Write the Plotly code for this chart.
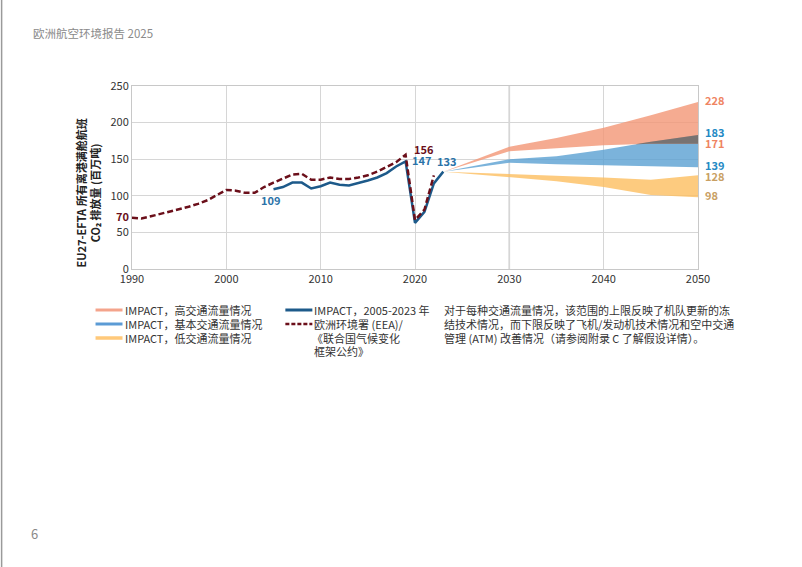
import plotly.graph_objects as go

# ---------------- data ----------------
eea_years = list(range(1990, 2023))
eea_values = [70, 69, 72, 75, 78, 81, 85, 89, 94, 101, 108, 107, 104, 104, 112,
              118, 123, 129, 130, 122, 122, 125, 123, 123, 125, 128, 133, 140,
              146, 156, 67, 81, 128]

impact_years = list(range(2005, 2024))
impact_values = [109, 112, 118, 118, 110, 113, 118, 115, 114, 117, 121, 125,
                 131, 140, 147, 63, 78, 117, 133]

proj_years = [2023, 2030, 2035, 2040, 2045, 2050]
high_upper = [133, 167, 179, 193, 210, 228]
high_lower = [133, 161, 165, 169, 171, 171]
base_upper = [133, 150, 154, 163, 174, 183]
base_lower = [133, 145, 143, 142, 141, 139]
low_upper = [133, 130, 128, 125, 122, 128]
low_lower = [133, 126, 120, 112, 101, 98]

x_ticks = [1990, 2000, 2010, 2020, 2030, 2040, 2050]
y_ticks = [0, 50, 100, 150, 200, 250]

# ---------------- styles ----------------
FONT = "Noto Sans CJK SC, Noto Sans, sans-serif"
C_HIGH = "rgba(242,150,118,0.8)"
C_BASE = "rgba(90,160,210,0.8)"
C_LOW = "rgba(253,190,95,0.8)"
C_OVER = "rgba(112,112,112,0.92)"
C_IMPACT = "#1d5a8a"
C_EEA = "#6b0f1a"
TXT = "#333333"

W, H = 802, 567
L, R, T, B = 131.5, 698, 86, 269


def px(x):
    return (x - L) / (R - L)


def py(y):
    return (B - y) / (B - T)


fig = go.Figure()


def band(lower, upper, color):
    fig.add_trace(go.Scatter(x=proj_years, y=lower, mode="lines",
                             line=dict(width=0, color=color), showlegend=False,
                             hoverinfo="skip"))
    fig.add_trace(go.Scatter(x=proj_years, y=upper, mode="lines", fill="tonexty",
                             fillcolor=color, line=dict(width=0, color=color),
                             showlegend=False, hoverinfo="skip"))


band(low_lower, low_upper, C_LOW)
band(base_lower, base_upper, C_BASE)
band(high_lower, high_upper, C_HIGH)

# overlap of high and base bands (derived from the band data)
ox, olo, ohi = [], [], []
for i in range(len(proj_years) - 1):
    x0, x1 = proj_years[i], proj_years[i + 1]
    lo0 = max(high_lower[i], base_lower[i]); lo1 = max(high_lower[i + 1], base_lower[i + 1])
    hi0 = min(high_upper[i], base_upper[i]); hi1 = min(high_upper[i + 1], base_upper[i + 1])
    d0, d1 = hi0 - lo0, hi1 - lo1
    if d0 <= 0 < d1:
        t = d0 / (d0 - d1)
        xc = x0 + t * (x1 - x0)
        yc = lo0 + t * (lo1 - lo0)
        ox.append(xc); olo.append(yc); ohi.append(yc)
    if d1 > 0:
        ox.append(x1); olo.append(lo1); ohi.append(hi1)
if ox:
    fig.add_trace(go.Scatter(x=ox + ox[::-1], y=olo + ohi[::-1], mode="lines",
                             fill="toself", fillcolor=C_OVER, line=dict(width=0),
                             showlegend=False, hoverinfo="skip"))

fig.add_trace(go.Scatter(x=impact_years, y=impact_values, mode="lines",
                         line=dict(color=C_IMPACT, width=2.5), showlegend=False,
                         hoverinfo="skip"))
fig.add_trace(go.Scatter(x=eea_years, y=eea_values, mode="lines",
                         line=dict(color=C_EEA, width=2.5, dash="6px,3px"),
                         showlegend=False, hoverinfo="skip"))

ann = []


def lab(x, y, text, color, **kw):
    d = dict(x=x, y=y, xref="x", yref="y", text=text, showarrow=False,
             font=dict(family=FONT, size=11, color=color))
    d.update(kw)
    ann.append(d)


i19 = eea_years.index(2019)
j19 = impact_years.index(2019)
# historical labels
lab(eea_years[0], eea_values[0], "<b>%d</b>" % eea_values[0], C_EEA,
    xanchor="right", xshift=-1, yshift=2)
lab(impact_years[0], impact_values[0], "<b>%d</b>" % impact_values[0], "#2a72a8",
    xanchor="center", yanchor="top", xshift=-3, yshift=-1)
lab(eea_years[i19], eea_values[i19], "<b>%d</b>" % eea_values[i19], C_EEA,
    xanchor="left", xshift=6, yshift=6)
lab(impact_years[j19], impact_values[j19], "<b>%d</b>" % impact_values[j19], "#2a72a8",
    xanchor="left", xshift=4, yshift=1)
lab(impact_years[-1], impact_values[-1], "<b>%d</b>" % impact_values[-1], "#2a72a8",
    xanchor="center", yanchor="bottom", xshift=3, yshift=1)

# 2050 labels
for v, c, s in [(high_upper[-1], "#ef8462", 2), (high_lower[-1], "#ef8462", 1),
                (base_upper[-1], "#2389c4", 3), (base_lower[-1], "#2389c4", 2),
                (low_upper[-1], "#c9a063", -1), (low_lower[-1], "#c9a063", 2)]:
    lab(2050, v, "<b>%d</b>" % v, c, xanchor="left", xshift=5, yshift=s)


def ptext(xp, yp, text, size=11, color=TXT, **kw):
    d = dict(x=px(xp), y=py(yp), xref="paper", yref="paper", text=text,
             showarrow=False, xanchor="left", yanchor="middle",
             font=dict(family=FONT, size=size, color=color))
    d.update(kw)
    ann.append(d)


# y-axis title
ptext(87, 193, "<b>EU27-EFTA 所有离港满舱航班<br>CO₂ 排放量 (百万吨)</b>", size=11,
      color="#222222", textangle=-90, xanchor="center")

# header / page number
ptext(30, 33, "欧洲航空环境报告 2025", size=11.5, color="#8a8a8a")
ptext(28, 533, "6", size=13, color="#8a8a8a")

# legend
shapes = []


def lline(x0, x1, yy, color, dash="solid", width=3):
    shapes.append(dict(type="line", xref="paper", yref="paper", x0=px(x0), x1=px(x1),
                       y0=py(yy), y1=py(yy), line=dict(color=color, width=width, dash=dash)))


rows = [310, 324, 338, 351]
lline(95, 122, rows[0], "#f4a48c")
lline(95, 122, rows[1], "#5b9bd5")
lline(95, 122, rows[2], "#ffc97a", width=3.5)
ptext(122, rows[0], "IMPACT，高交通流量情况")
ptext(122, rows[1], "IMPACT，基本交通流量情况")
ptext(122, rows[2], "IMPACT，低交通流量情况")
lline(285, 312, rows[0], C_IMPACT)
lline(285, 312, rows[1], C_EEA, dash="4px,2px", width=2.5)
ptext(312, rows[0], "IMPACT，2005-2023 年")
ptext(312, rows[1], "欧洲环境署 (EEA)/")
ptext(310, rows[2], "《联合国气候变化")
ptext(312, rows[3], "框架公约》")
ptext(442, rows[0], "对于每种交通流量情况，该范围的上限反映了机队更新的冻")
ptext(442, rows[1], "结技术情况，而下限反映了飞机/发动机技术情况和空中交通")
ptext(442, rows[2], "管理 (ATM) 改善情况（请参阅附录 C 了解假设详情）。")

# page edge
shapes.append(dict(type="line", xref="paper", yref="paper", x0=px(1), x1=px(1),
                   y0=py(0), y1=py(H), line=dict(color="#9a9a9a", width=1.5)))
# emphasised 2030 gridline
shapes.append(dict(type="line", xref="x", yref="paper", x0=2030, x1=2030, y0=0, y1=1,
                   layer="below", line=dict(color="#c2c2c2", width=1.5)))

axis_common = dict(showgrid=True, gridcolor="#d6d6d6", gridwidth=1, zeroline=False,
                   showline=True, linecolor="#c8c8c8", linewidth=1, mirror=True,
                   tickfont=dict(family=FONT, size=11, color=TXT), ticks="")

fig.update_layout(
    width=W, height=H,
    margin=dict(l=L, r=W - R, t=T, b=H - B, autoexpand=False),
    paper_bgcolor="white", plot_bgcolor="white",
    showlegend=False,
    xaxis=dict(range=[1990, 2050], tickvals=x_ticks, **axis_common),
    yaxis=dict(range=[0, 250], tickvals=y_ticks, **axis_common),
    annotations=ann, shapes=shapes,
)
fig.update_xaxes(layer="below traces")
fig.update_yaxes(layer="below traces")

fig.write_html("out.html", config={"displayModeBar": False},
               post_script="document.body.style.margin='0';")
